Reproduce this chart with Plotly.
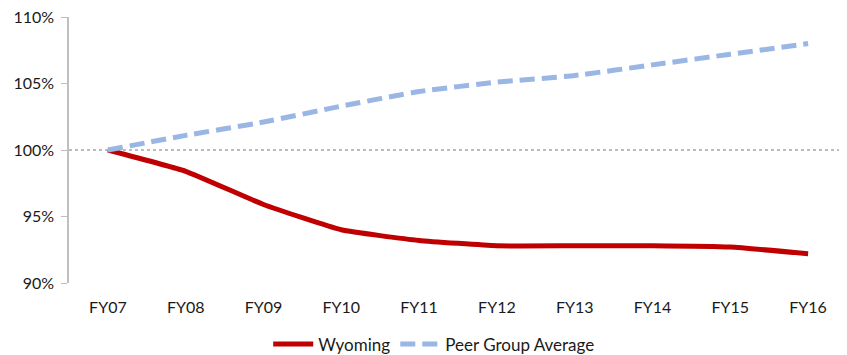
import plotly.graph_objects as go

categories = ["FY07", "FY08", "FY09", "FY10", "FY11", "FY12", "FY13", "FY14", "FY15", "FY16"]
wyoming = [1.000, 0.984, 0.959, 0.940, 0.932, 0.928, 0.928, 0.928, 0.927, 0.922]
peer_avg = [1.000, 1.011, 1.021, 1.033, 1.044, 1.051, 1.056, 1.064, 1.072, 1.080]
baseline = 1.0

FONT = "Lato"

fig = go.Figure()
fig.add_trace(go.Scatter(
    x=categories, y=wyoming, name="Wyoming", mode="lines",
    line=dict(color="#C00000", width=5, shape="spline", smoothing=0.4),
))
fig.add_trace(go.Scatter(
    x=categories, y=peer_avg, name="Peer Group Average", mode="lines",
    line=dict(color="#9AB6E4", width=5, dash="15px,7px", shape="spline", smoothing=0.4),
))
fig.add_hline(y=baseline, line=dict(color="#A6A6A6", width=1.5, dash="dot"), layer="below")

# page body has an 8px default margin, so the figure is sized to fit the window
fig.update_layout(
    width=839, height=347,
    margin=dict(l=61, r=0, t=9, b=72, autoexpand=False),
    paper_bgcolor="white", plot_bgcolor="white",
    font=dict(family=FONT, size=16, color="#1a1a1a"),
    showlegend=True,
    legend=dict(orientation="h", xref="container", yref="paper",
                x=0.508, xanchor="center", y=-0.163, yanchor="top",
                font=dict(size=17), tracegroupgap=0, itemwidth=40),
    xaxis=dict(showgrid=False, showline=False, zeroline=False, ticks="",
               ticklabelstandoff=13, range=[-0.5, 9.5], automargin=False),
    yaxis=dict(range=[0.9, 1.1], tickformat=".0%", dtick=0.05, showgrid=False,
               zeroline=False, showline=True, linecolor="#BFBFBF", linewidth=1.5,
               ticks="outside", ticklen=6, tickcolor="#BFBFBF", ticklabelstandoff=4,
               ticklabeloverflow="allow", automargin=False),
)

fig.write_html("out.html")
